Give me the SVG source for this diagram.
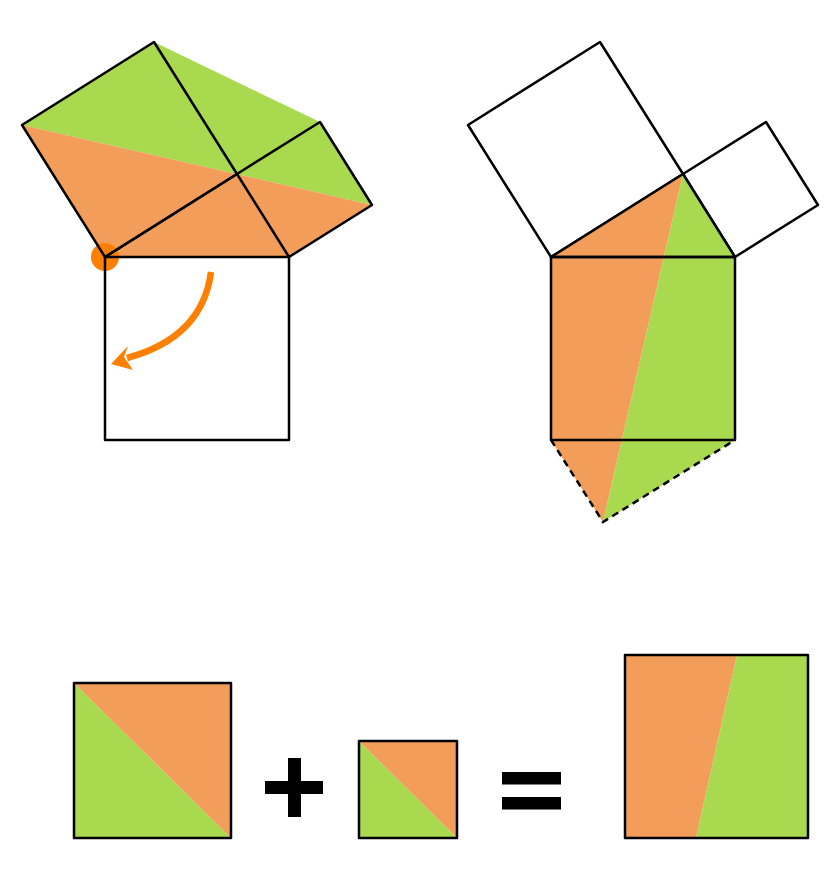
<svg xmlns="http://www.w3.org/2000/svg" width="840" height="881" viewBox="0 0 840 881">
<defs>
<style>
.or{fill:#F29D5A;}
.gr{fill:#A9D94E;}
.ln{fill:none;stroke:#000;stroke-width:2.5;stroke-linejoin:round;stroke-linecap:round;}
.dash{fill:none;stroke:#000;stroke-width:2.5;stroke-dasharray:7,5;}
.bx{fill:none;stroke:#000;stroke-width:2.5;stroke-linejoin:round;}
.sym{fill:#000;}
</style>
</defs>
<rect width="840" height="881" fill="#fff"/>

<g id="left-figure">
  <rect x="105" y="257" width="184" height="183" fill="#fff"/>
  <polygon class="gr" points="22,125 154,42 320,122 372,205"/>
  <polygon class="or" points="22,125 372,205 289,257 105,257"/>
  <circle cx="105" cy="257" r="14" fill="#FF8000"/>
  <polygon class="ln" points="105,257 22,125 154,42 237,174"/>
  <polygon class="ln" points="237,174 289,257 372,205 320,122"/>
  <polygon class="ln" points="105,257 289,257 289,440 105,440"/>
  <line class="ln" x1="105" y1="257" x2="237" y2="174"/>
  <path d="M211,272 C205,318 175,345 127,358" fill="none" stroke="#FF8000" stroke-width="6.5"/>
  <polygon points="111,364 128,346 124,357 133,370" fill="#FF8000"/>
</g>

<g id="right-figure">
  <polygon class="ln" points="551,257 468,125 600,42 683,174"/>
  <polygon class="ln" points="683,174 735,257 818,205 766,122"/>
  <polygon class="or" points="551,257 683,174 603,522 551,440"/>
  <polygon class="gr" points="683,174 735,257 735,440 603,522"/>
  <polygon class="ln" points="551,257 683,174 735,257"/>
  <rect class="bx" x="551" y="257" width="184" height="183"/>
  <polyline class="dash" points="551,440 603,522 735,440"/>
</g>

<g id="square-a">
  <polygon class="gr" points="74,683 231,838 74,838"/>
  <polygon class="or" points="74,683 231,683 231,838"/>
  <rect class="bx" x="74" y="683" width="157" height="155"/>
</g>

<g id="plus">
  <rect class="sym" x="265" y="781" width="58" height="13"/>
  <rect class="sym" x="288" y="758" width="13" height="59"/>
</g>

<g id="square-b">
  <polygon class="gr" points="359,741 457,838 359,838"/>
  <polygon class="or" points="359,741 457,741 457,838"/>
  <rect class="bx" x="359" y="741" width="98" height="97"/>
</g>

<g id="equals">
  <rect class="sym" x="502" y="772" width="59" height="12.5"/>
  <rect class="sym" x="502" y="797" width="59" height="12.5"/>
</g>

<g id="square-c">
  <polygon class="or" points="625,655 737,655 696,838 625,838"/>
  <polygon class="gr" points="737,655 808,655 808,838 696,838"/>
  <rect class="bx" x="625" y="655" width="183" height="183"/>
</g>
</svg>
